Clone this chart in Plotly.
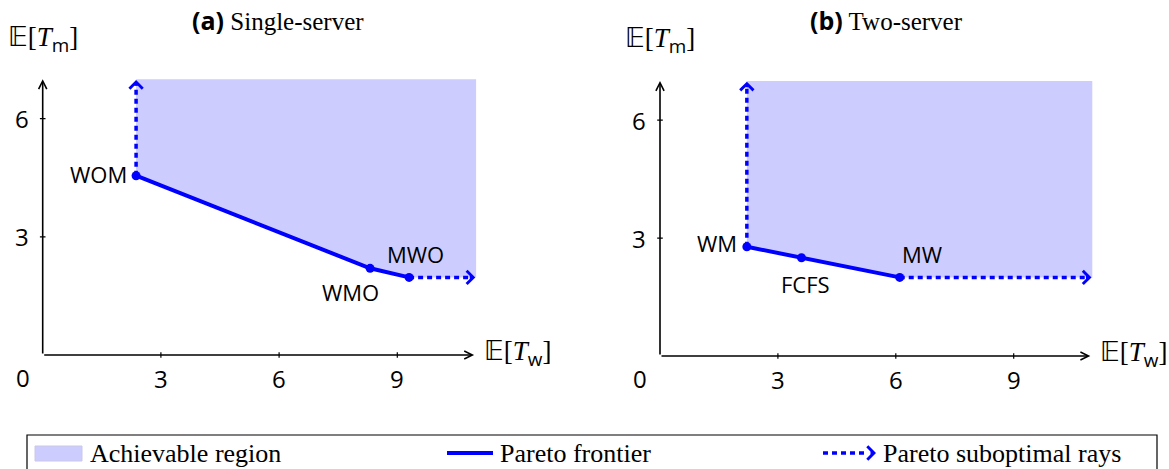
import plotly.graph_objects as go

# Frontier policies (E[T_w], E[T_m]) for each system
single_names = ["WOM", "WMO", "MWO"]
single_tw = [2.37, 8.31, 9.30]
single_tm = [4.55, 2.20, 1.97]

two_names = ["WM", "FCFS", "MW"]
two_tw = [2.21, 3.60, 6.10]
two_tm = [2.78, 2.50, 2.00]

x_ticks = [3, 6, 9]
y_ticks = [3, 6]
x_extent = 11.0
y_extent = 7.0

panel_titles = ["Single-server", "Two-server"]
panel_tags = ["(a)", "(b)"]
legend_names = ["Achievable region", "Pareto frontier", "Pareto suboptimal rays"]

BLUE = "#0000ff"
FILL = "#ccccff"
W, H = 1169, 469
SANS = "Open Sans"
SERIF = "Liberation Serif"


def px(v):
    return v / W


def py(v):
    return 1 - v / H


fig = go.Figure()

# axis placement: origin pixel position and pixels per unit
panels = [
    dict(xa="x", ya="y", x0=42.7, sx=39.4, y0=355.0, sy=39.4,
         tw=single_tw, tm=single_tm, names=single_names,
         label_pos=[("right", "middle", -7, 2), ("center", "top", -20, -7), ("center", "bottom", 6, 6)]),
    dict(xa="x2", ya="y2", x0=660.0, sx=39.3, y0=356.0, sy=39.3,
         tw=two_tw, tm=two_tm, names=two_names,
         label_pos=[("right", "middle", -8, 4), ("center", "top", 4, -9), ("center", "bottom", 22, 6)]),
]

annotations = []
shapes = []
layout_axes = {}


def arrow_head(x, y, ax, ay, xref, yref, color, width, size, head):
    # zero-text annotation used only for its arrowhead
    return dict(x=x, y=y, ax=ax, ay=ay, xref=xref, yref=yref, text="", showarrow=True,
                arrowhead=head, arrowwidth=width, arrowsize=size, arrowcolor=color,
                font=dict(size=1))


for i, p in enumerate(panels):
    xr = [-1, 12]
    yr = [-1, 8]
    xd = [px(p["x0"] + xr[0] * p["sx"]), px(p["x0"] + xr[1] * p["sx"])]
    yd = [py(p["y0"] - yr[0] * p["sy"]), py(p["y0"] - yr[1] * p["sy"])]
    sfx = "" if i == 0 else "2"
    common = dict(showgrid=False, zeroline=False, showline=False,
                  showticklabels=False, ticks="", fixedrange=True)
    layout_axes["xaxis" + sfx] = dict(range=xr, domain=xd, anchor="y" + sfx, **common)
    layout_axes["yaxis" + sfx] = dict(range=yr, domain=yd, anchor="x" + sfx, **common)

    tw, tm = p["tw"], p["tm"]
    xa, ya = p["xa"], p["ya"]

    # achievable region: above the frontier, bounded by the drawing extent
    rx = [tw[0]] + tw + [x_extent, x_extent, tw[0]]
    ry = [y_extent] + tm + [tm[-1], y_extent, y_extent]
    fig.add_trace(go.Scatter(x=rx, y=ry, xaxis=xa, yaxis=ya, mode="lines",
                             fill="toself", fillcolor=FILL, line=dict(width=0),
                             hoverinfo="skip", showlegend=False))

    # suboptimal rays (dotted)
    fig.add_trace(go.Scatter(x=[tw[0], tw[0]], y=[tm[0], y_extent - 0.12], xaxis=xa, yaxis=ya,
                             mode="lines", line=dict(color=BLUE, width=3.5, dash="5px,4px"),
                             hoverinfo="skip", showlegend=False))
    fig.add_trace(go.Scatter(x=[tw[-1], x_extent - 0.12], y=[tm[-1], tm[-1]], xaxis=xa, yaxis=ya,
                             mode="lines", line=dict(color=BLUE, width=3.5, dash="5px,4px"),
                             hoverinfo="skip", showlegend=False))

    # Pareto frontier
    fig.add_trace(go.Scatter(x=tw, y=tm, xaxis=xa, yaxis=ya, mode="lines+markers",
                             line=dict(color=BLUE, width=4),
                             marker=dict(color=BLUE, size=9),
                             hoverinfo="skip", showlegend=False))

    # ray arrowheads (pixel offsets for the short stub)
    annotations.append(arrow_head(tw[0], y_extent - 0.02, 0, 7, xa, ya, BLUE, 3.2, 0.8, 4))
    annotations.append(arrow_head(x_extent - 0.02, tm[-1], -7, 0, xa, ya, BLUE, 3.2, 0.8, 4))

    # coordinate axes with arrows
    ax_arrow = arrow_head(x_extent - 0.05, 0, 0, 0, xa, ya, "black", 1.6, 1, 5)
    ax_arrow.update(axref=xa, ayref=ya)
    annotations.append(ax_arrow)
    ay_arrow = arrow_head(0, y_extent, 0, 0, xa, ya, "black", 1.6, 1, 5)
    ay_arrow.update(axref=xa, ayref=ya)
    annotations.append(ay_arrow)

    # small tick marks
    fig.add_trace(go.Scatter(x=x_ticks, y=[0] * len(x_ticks), xaxis=xa, yaxis=ya, mode="markers",
                             marker=dict(symbol="line-ns", size=4, line=dict(color="black", width=1.2)),
                             hoverinfo="skip", showlegend=False))
    fig.add_trace(go.Scatter(x=[0] * len(y_ticks), y=y_ticks, xaxis=xa, yaxis=ya, mode="markers",
                             marker=dict(symbol="line-ew", size=4, line=dict(color="black", width=1.2)),
                             hoverinfo="skip", showlegend=False))

    # tick labels
    tick_font = dict(family=SANS, size=24, color="black")
    for t in x_ticks:
        annotations.append(dict(x=t, y=0, xref=xa, yref=ya, text=str(t), showarrow=False,
                                xanchor="center", yshift=-23, font=tick_font))
    annotations.append(dict(x=0, y=0, xref=xa, yref=ya, text="0", showarrow=False,
                            xanchor="center", xshift=-20, yshift=-22, font=tick_font))
    for t in y_ticks:
        annotations.append(dict(x=0, y=t, xref=xa, yref=ya, text=str(t), showarrow=False,
                                xanchor="center", xshift=-21, font=tick_font))

    # policy labels
    lab_font = dict(family=SANS, size=22, color="black")
    for k, (name, xv, yv) in enumerate(zip(p["names"], tw, tm)):
        xanc, yanc, dx, dy = p["label_pos"][k]
        annotations.append(dict(x=xv, y=yv, xref=xa, yref=ya, text=name, showarrow=False,
                                xanchor=xanc, yanchor=yanc, xshift=dx, yshift=dy, font=lab_font))

    # axis titles
    tm_label = ("<span style='font-family:DejaVu Sans'>𝔼</span>[<i>T</i>"
                "<sub><span style='font-family:Open Sans'>m</span></sub>]")
    tw_label = ("<span style='font-family:DejaVu Sans'>𝔼</span>[<i>T</i>"
                "<sub><span style='font-family:Open Sans'>w</span></sub>]")
    annotations.append(dict(x=0, y=y_extent, xref=xa, yref=ya, text=tm_label, showarrow=False,
                            xanchor="center", yshift=40, font=dict(family=SERIF, size=27, color="black")))
    annotations.append(dict(x=x_extent, y=0, xref=xa, yref=ya, text=tw_label, showarrow=False,
                            xanchor="left", xshift=6, yshift=2,
                            font=dict(family=SERIF, size=27, color="black")))

# panel titles
title_x = [278, 886]
for tag, title, cx in zip(panel_tags, panel_titles, title_x):
    annotations.append(dict(x=px(cx), y=py(20), xref="paper", yref="paper", showarrow=False,
                            xanchor="center", yanchor="middle",
                            text=f"<span style='font-family:{SANS}'><b>{tag}</b></span> {title}",
                            font=dict(family=SERIF, size=25, color="black")))

# legend box and entries
shapes.append(dict(type="rect", xref="paper", yref="paper", x0=px(27), x1=px(1157),
                   y0=py(480), y1=py(435), line=dict(color="black", width=1.2),
                   fillcolor="rgba(0,0,0,0)"))
shapes.append(dict(type="rect", xref="paper", yref="paper", x0=px(35), x1=px(82),
                   y0=py(461), y1=py(446), line=dict(color="#c8c8e8", width=1), fillcolor=FILL))
shapes.append(dict(type="line", xref="paper", yref="paper", x0=px(447), x1=px(493),
                   y0=py(453), y1=py(453), line=dict(color=BLUE, width=4)))
shapes.append(dict(type="line", xref="paper", yref="paper", x0=px(823), x1=px(868),
                   y0=py(453), y1=py(453), line=dict(color=BLUE, width=3.5, dash="5px,4px")))
annotations.append(arrow_head(px(876), py(453), -7, 0, "paper", "paper", BLUE, 3.2, 0.8, 4))
leg_font = dict(family=SERIF, size=26, color="black")
for name, lx in zip(legend_names, [88, 498, 881]):
    annotations.append(dict(x=px(lx), y=py(453), xref="paper", yref="paper", text=name,
                            showarrow=False, xanchor="left", yanchor="middle", font=leg_font))

fig.update_layout(width=W, height=H, margin=dict(l=0, r=0, t=0, b=0),
                  paper_bgcolor="white", plot_bgcolor="white",
                  annotations=annotations, shapes=shapes, showlegend=False, **layout_axes)

fig.write_html("out.html", config={"displayModeBar": False})
